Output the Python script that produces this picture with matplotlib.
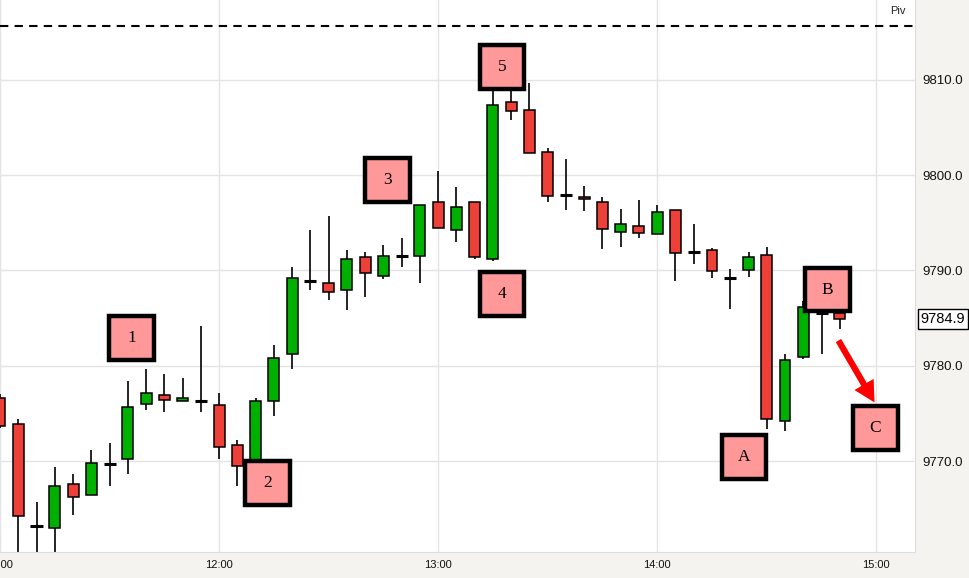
import matplotlib.pyplot as plt
from matplotlib.patches import Rectangle

# 5-minute bars, index 0 = 11:00
opens = [9776.6, 9773.9, 9763.2, 9763.0, 9767.6, 9766.4, 9769.7, 9770.2, 9776.0, 9776.9,
         9776.3, 9776.3, 9775.9, 9771.7, 9769.3, 9776.3, 9781.2, 9788.9, 9788.7, 9788.0,
         9791.4, 9789.4, 9791.5, 9791.5, 9797.2, 9794.2, 9797.2, 9791.2, 9807.7, 9806.8,
         9802.4, 9797.9, 9797.7, 9797.2, 9794.0, 9794.7, 9793.8, 9796.3, 9791.9, 9792.1,
         9789.2, 9790.0, 9791.6, 9774.2, 9780.9, 9785.5, 9785.5]
highs = [9777.0, 9774.4, 9765.7, 9769.4, 9768.6, 9771.2, 9771.9, 9778.4, 9779.7, 9779.1,
         9778.7, 9784.2, 9777.1, 9772.2, 9776.6, 9782.2, 9790.4, 9794.2, 9795.7, 9792.2,
         9791.9, 9792.7, 9793.4, 9796.9, 9800.4, 9798.8, 9797.2, 9809.0, 9809.0, 9809.7,
         9802.8, 9801.7, 9798.9, 9797.7, 9796.4, 9797.4, 9796.9, 9796.3, 9794.9, 9792.4,
         9790.2, 9791.9, 9792.5, 9781.2, 9786.8, 9786.5, 9786.0]
lows = [9773.5, 9760.5, 9759.5, 9759.5, 9764.3, 9766.4, 9767.4, 9768.6, 9775.4, 9775.2,
        9776.3, 9775.2, 9770.2, 9767.4, 9768.5, 9774.7, 9779.7, 9788.0, 9786.9, 9785.9,
        9787.2, 9789.1, 9790.4, 9788.7, 9794.5, 9793.0, 9791.2, 9791.0, 9805.8, 9802.3,
        9797.2, 9796.3, 9796.2, 9792.3, 9792.5, 9793.4, 9793.8, 9788.9, 9790.7, 9789.2,
        9786.0, 9789.3, 9773.4, 9773.2, 9780.7, 9781.2, 9783.9]
closes = [9773.7, 9764.2, 9763.2, 9767.4, 9766.2, 9769.8, 9769.7, 9775.7, 9777.1, 9776.4,
          9776.6, 9776.3, 9771.5, 9769.5, 9776.3, 9780.8, 9789.2, 9788.9, 9787.7, 9791.2,
          9789.7, 9791.5, 9791.5, 9796.9, 9794.5, 9796.7, 9791.4, 9807.4, 9806.7, 9802.3,
          9797.8, 9797.9, 9797.5, 9794.3, 9794.9, 9793.9, 9796.1, 9791.8, 9791.9, 9789.9,
          9789.2, 9791.4, 9774.4, 9780.6, 9786.2, 9785.5, 9784.9]

pivot = 9815.7
last_price = 9784.9
tick_pos = [0, 12, 24, 36, 48]
tick_labels = ['11:00', '12:00', '13:00', '14:00', '15:00']
price_ticks = [9770, 9780, 9790, 9800, 9810]

# wave labels: text, bar index, price
marks = [('1', 7.2, 9782.9), ('2', 14.67, 9767.7), ('3', 21.22, 9799.5),
         ('4', 27.5, 9787.5), ('5', 27.5, 9811.35), ('A', 40.75, 9770.4),
         ('B', 45.33, 9788.0), ('C', 47.95, 9773.5)]

GREEN = '#00b000'
RED = '#ec4038'
BG = '#f4f3ef'

fig = plt.figure(figsize=(9.69, 5.78), dpi=100)
fig.patch.set_facecolor(BG)
ax = fig.add_axes([0, 26 / 578, 915 / 969, 552 / 578])
ax.set_facecolor('white')

ax.set_xlim(0.2, 50.12)
ax.set_ylim(9760.46, 9818.38)

for x in tick_pos:
    ax.axvline(x, color='#e4e4e4', lw=1, zorder=0)
for y in price_ticks:
    ax.axhline(y, color='#e4e4e4', lw=1, zorder=0)

w = 0.6
for i in range(len(opens)):
    o, h, l, c = opens[i], highs[i], lows[i], closes[i]
    ax.vlines(i, l, h, color='black', lw=1.2, zorder=2)
    if abs(o - c) < 0.05:
        ax.hlines(o, i - 0.33, i + 0.33, color='black', lw=2.2, zorder=3)
    else:
        col = GREEN if c > o else RED
        ax.bar(i, abs(c - o), bottom=min(o, c), width=w, color=col,
               edgecolor='black', linewidth=1.1, zorder=3)

ax.axhline(pivot, color='black', lw=1.5, ls=(0, (4, 3)), zorder=4)
ax.text(0.99, pivot + 1.0, 'Piv', transform=ax.get_yaxis_transform(),
        ha='right', va='bottom', fontsize=8, family='Liberation Sans', color='#222222')

bw, bh = 2.45, 4.6
for txt, x, y in marks:
    ax.add_patch(Rectangle((x - bw / 2, y - bh / 2), bw, bh, facecolor='#ff9999',
                           edgecolor='black', linewidth=3.2, zorder=6))
    ax.text(x, y, txt, ha='center', va='center', fontsize=12.5,
            family='Liberation Serif', zorder=7)

ax.annotate('', xy=(47.98, 9775.9), xytext=(45.85, 9782.9),
            arrowprops=dict(arrowstyle='simple,head_length=1.5,head_width=1.6,tail_width=0.45',
                            color='#ff0000', lw=0), zorder=6)

ax.yaxis.tick_right()
ax.set_yticks(price_ticks)
ax.set_yticklabels(['%.1f' % v for v in price_ticks])
ax.set_xticks(tick_pos)
ax.set_xticklabels(tick_labels)
ax.tick_params(axis='y', length=0, pad=5, labelsize=9.5, labelcolor='#111111')
ax.tick_params(axis='x', length=0, pad=6, labelsize=8, labelcolor='#111111')
for lab in ax.get_xticklabels() + ax.get_yticklabels():
    lab.set_family('Liberation Sans')

for s in ['top', 'left']:
    ax.spines[s].set_visible(False)
ax.spines['bottom'].set_color('#dddddd')
ax.spines['right'].set_color('#dddddd')

ax.annotate('%.1f' % last_price, xy=(1.0, last_price), xycoords=('axes fraction', 'data'),
            xytext=(4, 0), textcoords='offset points', ha='left', va='center',
            fontsize=10.5, family='Liberation Sans',
            bbox=dict(boxstyle='square,pad=0.2', facecolor='white', edgecolor='black', lw=1),
            annotation_clip=False)

fig.savefig('out.png', dpi=100, facecolor=BG)
